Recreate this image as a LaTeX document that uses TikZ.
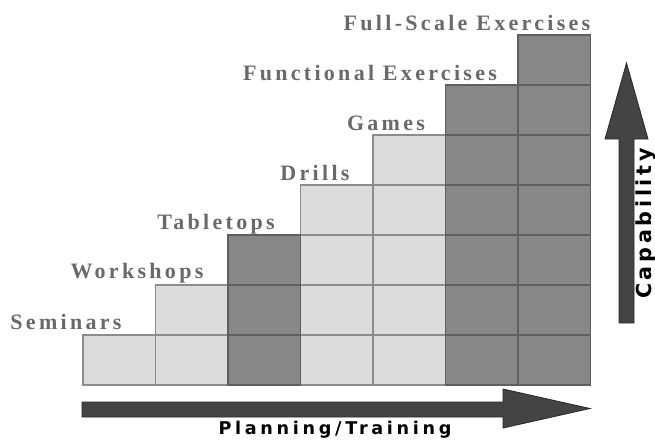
\documentclass[tikz,border=0pt]{standalone}
\usepackage{fontspec}
\setmainfont{Liberation Serif}
\newfontfamily\labelfont[LetterSpace=15]{Liberation Serif}
\newfontfamily\axisfont[LetterSpace=21]{DejaVu Sans}
\newfontfamily\capfont[LetterSpace=18]{DejaVu Sans}

\definecolor{cellLight}{RGB}{220,220,220}
\definecolor{cellDark}{RGB}{135,135,135}
\definecolor{edgeLight}{RGB}{140,140,140}
\definecolor{edgeDark}{RGB}{95,95,95}
\definecolor{labelGray}{RGB}{105,105,105}
\definecolor{arrowGray}{RGB}{68,68,68}
\definecolor{arrowEdge}{RGB}{40,40,40}

\begin{document}
\begin{tikzpicture}[x=0.75pt,y=-0.75pt,
    lightcell/.style={fill=cellLight,draw=edgeLight,line width=1pt},
    darkcell/.style={fill=cellDark,draw=edgeDark,line width=1pt},
    steplabel/.style={text=labelGray,anchor=base,inner sep=0pt,
      font=\labelfont\bfseries\fontsize{16.5}{18}\selectfont},
    bigarrow/.style={fill=arrowGray,draw=arrowEdge,line width=0.6pt},
    axislabel/.style={anchor=base,inner sep=0pt,text=black}]

    \useasboundingbox (0,0) rectangle (655,440);

    % light columns first, dark ones on top
    \foreach \col/\h in {1/1,2/2,4/4,5/5}
        \foreach \row in {1,...,\h}
            \draw[lightcell] ({83+72.5*(\col-1)},{385-50*(\row-1)}) rectangle ++(72.5,-50);
    \foreach \col/\h in {3/3,6/6,7/7}
        \foreach \row in {1,...,\h}
            \draw[darkcell] ({83+72.5*(\col-1)},{385-50*(\row-1)}) rectangle ++(72.5,-50);

    % step names
    \node[steplabel] (seminars) at (66,329) {Seminars};
    \node[steplabel] (workshops) at (137,278) {Workshops};
    \node[steplabel] (tabletops) at (216,229) {Tabletops};
    \node[steplabel] (drills) at (315,180) {Drills};
    \node[steplabel] (games) at (386,130) {Games};
    \node[steplabel] (functional) at (370,80) {Functional Exercises};
    \node[steplabel] (fullscale) at (467,30) {Full-Scale Exercises};

    % axes
    \draw[bigarrow] (82,402) -- (503,402) -- (503,389) -- (590,408.5)
        -- (503,428) -- (503,417) -- (82,417) -- cycle;
    \draw[bigarrow] (619,323) -- (619,139) -- (605,139) -- (626.5,63)
        -- (648,139) -- (634,139) -- (634,323) -- cycle;

    \node[axislabel,font=\axisfont\bfseries\fontsize{13.2}{15}\selectfont]
        (planning) at (335,434) {Planning/Training};
    \node[axislabel,rotate=90,font=\capfont\bfseries\fontsize{15.5}{17}\selectfont]
        (capability) at (651,223.5) {Capability};
\end{tikzpicture}
\end{document}
